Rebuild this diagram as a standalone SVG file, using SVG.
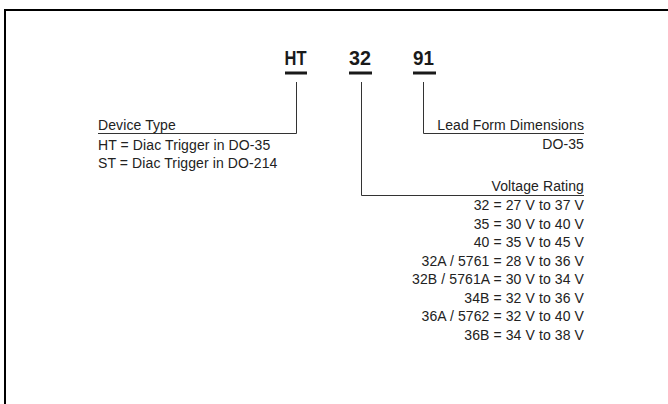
<svg xmlns="http://www.w3.org/2000/svg" width="668" height="404" viewBox="0 0 668 404">
<style>
.code{font-family:"Liberation Sans",Arial,sans-serif;font-weight:bold;font-size:20px;fill:#1a1a1a}
.t{font-family:"Liberation Sans",Arial,sans-serif;font-size:14px;letter-spacing:0.1px;fill:#222}
.r{text-anchor:end}
.ln{stroke:#333;stroke-width:1;fill:none}
.bar{fill:#1a1a1a}
</style>
<rect width="668" height="404" fill="#fff"/>
<path d="M5 404 V10 H668" fill="none" stroke="#000" stroke-width="2"/>
<g id="code-HT">
<text class="code" x="284.5" y="65" textLength="22" lengthAdjust="spacingAndGlyphs">HT</text>
<rect class="bar" x="285" y="71.5" width="22" height="3"/>
</g>
<g id="code-32">
<text class="code" x="349" y="65" textLength="22" lengthAdjust="spacingAndGlyphs">32</text>
<rect class="bar" x="349" y="71.5" width="23" height="3"/>
</g>
<g id="code-91">
<text class="code" x="413" y="65" textLength="21" lengthAdjust="spacingAndGlyphs">91</text>
<rect class="bar" x="413" y="71.5" width="23" height="3"/>
</g>
<g id="connectors">
<path class="ln" d="M296.5 82 V133.5 H98"/>
<path class="ln" d="M361.5 82 V195.5 H584"/>
<path class="ln" d="M423.5 82 V133.5 H584"/>
</g>
<g id="device-type">
<text class="t" x="98" y="130">Device Type</text>
<text class="t" x="98" y="150">HT = Diac Trigger in DO-35</text>
<text class="t" x="98" y="168">ST = Diac Trigger in DO-214</text>
</g>
<g id="lead-form">
<text class="t r" x="584" y="130">Lead Form Dimensions</text>
<text class="t r" x="584" y="149">DO-35</text>
</g>
<g id="voltage-rating">
<text class="t r" x="584" y="191">Voltage Rating</text>
<text class="t r" x="584" y="210">32 = 27 V to 37 V</text>
<text class="t r" x="584" y="228.5">35 = 30 V to 40 V</text>
<text class="t r" x="584" y="247">40 = 35 V to 45 V</text>
<text class="t r" x="584" y="265.5">32A / 5761 = 28 V to 36 V</text>
<text class="t r" x="584" y="284">32B / 5761A = 30 V to 34 V</text>
<text class="t r" x="584" y="302.5">34B = 32 V to 36 V</text>
<text class="t r" x="584" y="321">36A / 5762 = 32 V to 40 V</text>
<text class="t r" x="584" y="339.5">36B = 34 V to 38 V</text>
</g>
</svg>
